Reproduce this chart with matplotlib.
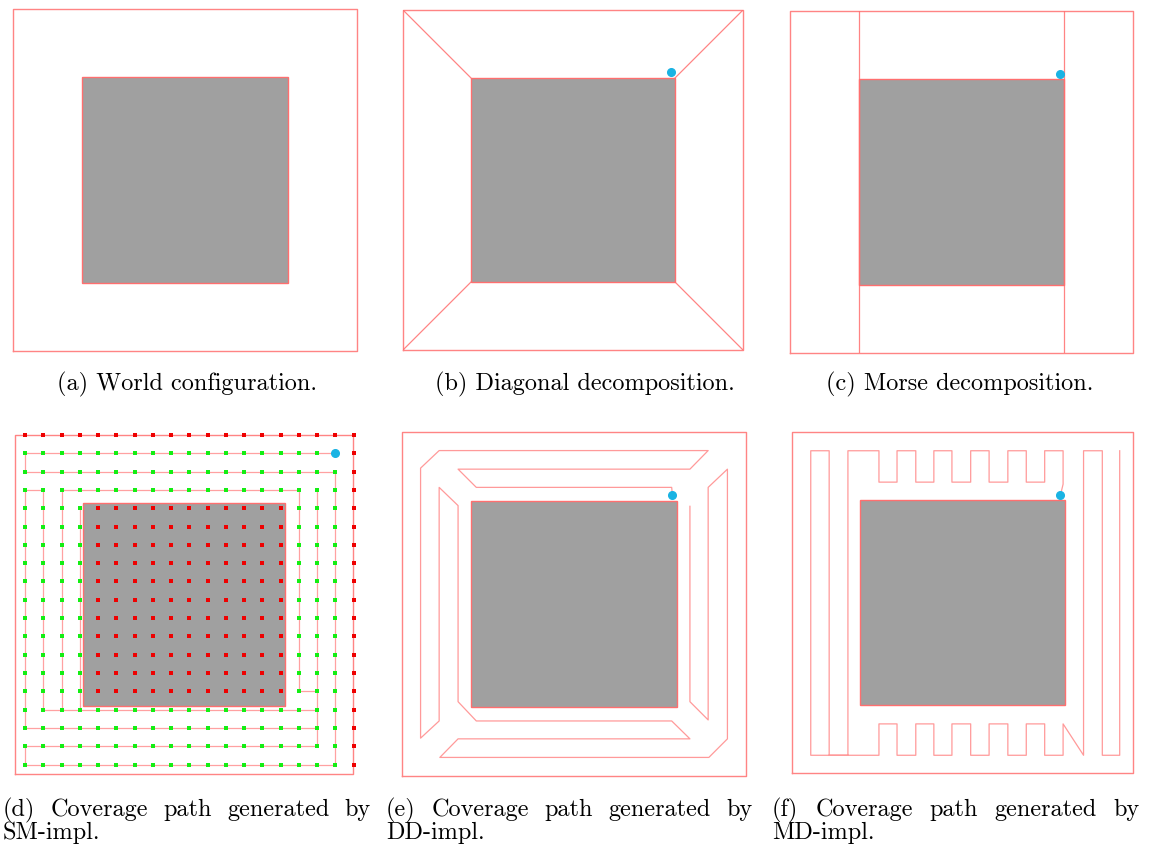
import numpy as np
import matplotlib.pyplot as plt
from matplotlib.patches import Rectangle

W, H = 1159, 850

# world is the square [0, 10] x [0, 10], one square obstacle in the middle
obstacle = (2.0, 2.0, 6.0, 6.0)

# start position of the robot (cyan dot)
start_b = (7.87, 8.17)
start_c = (7.86, 8.17)
start_e = (7.86, 8.16)
start_f = (7.87, 8.14)

# (b) diagonal decomposition: cell borders
diag_lines = [[(0, 0), (2, 2)], [(10, 0), (8, 2)], [(0, 10), (2, 8)], [(10, 10), (8, 8)]]
# (c) morse decomposition: cell borders
morse_lines = [[(2, 0), (2, 10)], [(8, 0), (8, 10)]]

# (d) grid coverage, 19 x 19 cells (col, row), row 0 is the top
sm_n = 19
sm_blocked_row = 0
sm_blocked_col = 18
sm_obst = (4, 14)  # first and last cell index covered by the obstacle
sm_start = (17, 1)
sm_paths = [
    [(17, 1), (0, 1), (0, 2), (17, 2), (17, 18), (0, 18), (0, 17), (16, 17), (16, 16),
     (0, 16), (0, 3), (1, 3), (1, 15), (2, 15), (2, 3), (15, 3), (15, 14), (16, 14)],
    [(16, 3), (16, 16)],
    [(2, 15), (16, 15)],
    [(3, 15), (3, 4)],
]

# (e) path from the diagonal decomposition
dd_path = [(7.86, 8.16), (7.84, 8.39), (2.16, 8.39), (1.63, 8.92), (8.37, 8.92), (8.90, 9.46),
           (1.08, 9.46), (0.54, 8.95), (0.54, 1.10), (1.08, 1.60), (1.08, 8.39), (1.63, 7.86),
           (1.63, 2.16), (2.16, 1.60), (7.84, 1.60), (8.37, 1.08), (1.63, 1.08), (1.10, 0.54),
           (8.92, 0.54), (9.46, 1.08), (9.46, 8.92), (8.90, 8.39), (8.90, 1.63), (8.37, 2.16),
           (8.37, 7.84)]

# (f) path from the morse decomposition
md_path = [(7.87, 8.14), (7.95, 8.47), (7.95, 9.45), (7.41, 9.45), (7.41, 8.53), (6.87, 8.53),
           (6.87, 9.45), (6.33, 9.45), (6.33, 8.53), (5.78, 8.53), (5.78, 9.45), (5.24, 9.45),
           (5.24, 8.53), (4.69, 8.53), (4.69, 9.45), (4.16, 9.45), (4.16, 8.53), (3.63, 8.53),
           (3.63, 9.45), (3.08, 9.45), (3.08, 8.53), (2.55, 8.53), (2.55, 9.45), (1.64, 9.45),
           (1.64, 0.52), (1.09, 0.52), (1.09, 9.45), (0.55, 9.45), (0.55, 0.52), (2.55, 0.52),
           (2.55, 1.44), (3.08, 1.44), (3.08, 0.52), (3.63, 0.52), (3.63, 1.44), (4.16, 1.44),
           (4.16, 0.52), (4.69, 0.52), (4.69, 1.44), (5.24, 1.44), (5.24, 0.52), (5.78, 0.52),
           (5.78, 1.44), (6.33, 1.44), (6.33, 0.52), (6.87, 0.52), (6.87, 1.44), (7.41, 1.44),
           (7.41, 0.52), (7.95, 0.52), (7.95, 1.44), (8.55, 0.52), (8.55, 9.45), (9.10, 9.45),
           (9.10, 0.52), (9.61, 0.52), (9.61, 9.45)]

captions = ["(a) World configuration.", "(b) Diagonal decomposition.", "(c) Morse decomposition.",
            "(d) Coverage path generated by", "(e) Coverage path generated by",
            "(f) Coverage path generated by"]
captions2 = ["SM-impl.", "DD-impl.", "MD-impl."]

# panel boxes in pixels: x0, y0, x1, y1 (outer boundary of the world)
boxes = [(13, 9, 357, 351), (403, 10, 743, 350), (790, 11, 1133, 353),
         (15, 435, 353, 774), (402, 432, 746, 776), (792, 432, 1133, 773)]

RED = '#ff6f6f'
CYAN = '#1ab3e3'
FONT = 'cmr10'
FS = 17.5

fig = plt.figure(figsize=(W / 100, H / 100), dpi=100)
axes = []
for (x0, y0, x1, y1) in boxes:
    ax = fig.add_axes([x0 / W, 1 - y1 / H, (x1 - x0) / W, (y1 - y0) / H])
    ax.set_xlim(0, 10)
    ax.set_ylim(0, 10)
    ax.axis('off')
    ax.add_patch(Rectangle(obstacle[:2], obstacle[2], obstacle[3], facecolor='#a0a0a0',
                           edgecolor=RED, lw=1.0, zorder=1))
    ax.plot([0, 10, 10, 0, 0], [0, 0, 10, 10, 0], color=RED, lw=1.0, alpha=0.85,
            clip_on=False, zorder=2)
    axes.append(ax)

for seg in diag_lines:
    xs, ys = zip(*seg)
    axes[1].plot(xs, ys, color=RED, lw=0.9, alpha=0.85, zorder=2)
for seg in morse_lines:
    xs, ys = zip(*seg)
    axes[2].plot(xs, ys, color=RED, lw=0.9, alpha=0.85, zorder=2)

axes[1].plot(*start_b, 'o', color=CYAN, ms=5.5, zorder=5)
axes[2].plot(*start_c, 'o', color=CYAN, ms=5.5, zorder=5)

# grid panel
step, gx0 = 0.54, 0.3
def cx(i):
    return gx0 + step * np.asarray(i)
def cy(j):
    return 10 - step * np.asarray(j)

ax = axes[3]
for p in sm_paths:
    c, r = zip(*p)
    ax.plot(cx(c), cy(r), color=RED, lw=0.9, alpha=0.65, zorder=2)
ii, jj = np.meshgrid(np.arange(sm_n), np.arange(sm_n))
ii, jj = ii.ravel(), jj.ravel()
blocked = (jj == sm_blocked_row) | (ii == sm_blocked_col) | (
    (ii >= sm_obst[0]) & (ii <= sm_obst[1]) & (jj >= sm_obst[0]) & (jj <= sm_obst[1]))
ax.plot(cx(ii[~blocked]), cy(jj[~blocked]), 's', color='#14ee14', ms=3.0, mew=0,
        clip_on=False, zorder=3)
ax.plot(cx(ii[blocked]), cy(jj[blocked]), 's', color='#ee0000', ms=3.0, mew=0,
        clip_on=False, zorder=3)
ax.plot(cx(sm_start[0]), cy(sm_start[1]), 'o', color=CYAN, ms=5.5, zorder=5)

ax = axes[4]
xs, ys = zip(*dd_path)
ax.plot(xs, ys, color=RED, lw=0.9, alpha=0.7, zorder=2)
ax.plot(*start_e, 'o', color=CYAN, ms=5.5, zorder=5)

ax = axes[5]
xs, ys = zip(*md_path)
ax.plot(xs, ys, color=RED, lw=0.9, alpha=0.7, zorder=2)
ax.plot(*start_f, 'o', color=CYAN, ms=5.5, zorder=5)

# captions
for k, cxp in enumerate([187, 585, 960]):
    fig.text(cxp / W, 1 - 390 / H, captions[k], ha='center', va='baseline',
             fontsize=FS, family=FONT)

renderer = fig.canvas.get_renderer()
def justified(text, x0, x1, y):
    words = text.split()
    arts = [fig.text(0, 0, w, fontsize=FS, family=FONT, va='baseline') for w in words]
    widths = [a.get_window_extent(renderer).width for a in arts]
    gap = (x1 - x0 - sum(widths)) / (len(words) - 1)
    x = x0
    for a, w in zip(arts, widths):
        a.set_position((x / W, 1 - y / H))
        x += w + gap

for k, (x0, x1) in enumerate([(3, 371), (386, 753), (772, 1140)]):
    justified(captions[3 + k], x0, x1, 816)
    fig.text(x0 / W, 1 - 839 / H, captions2[k], ha='left', va='baseline',
             fontsize=FS, family=FONT)

fig.savefig('out.png', dpi=100)
